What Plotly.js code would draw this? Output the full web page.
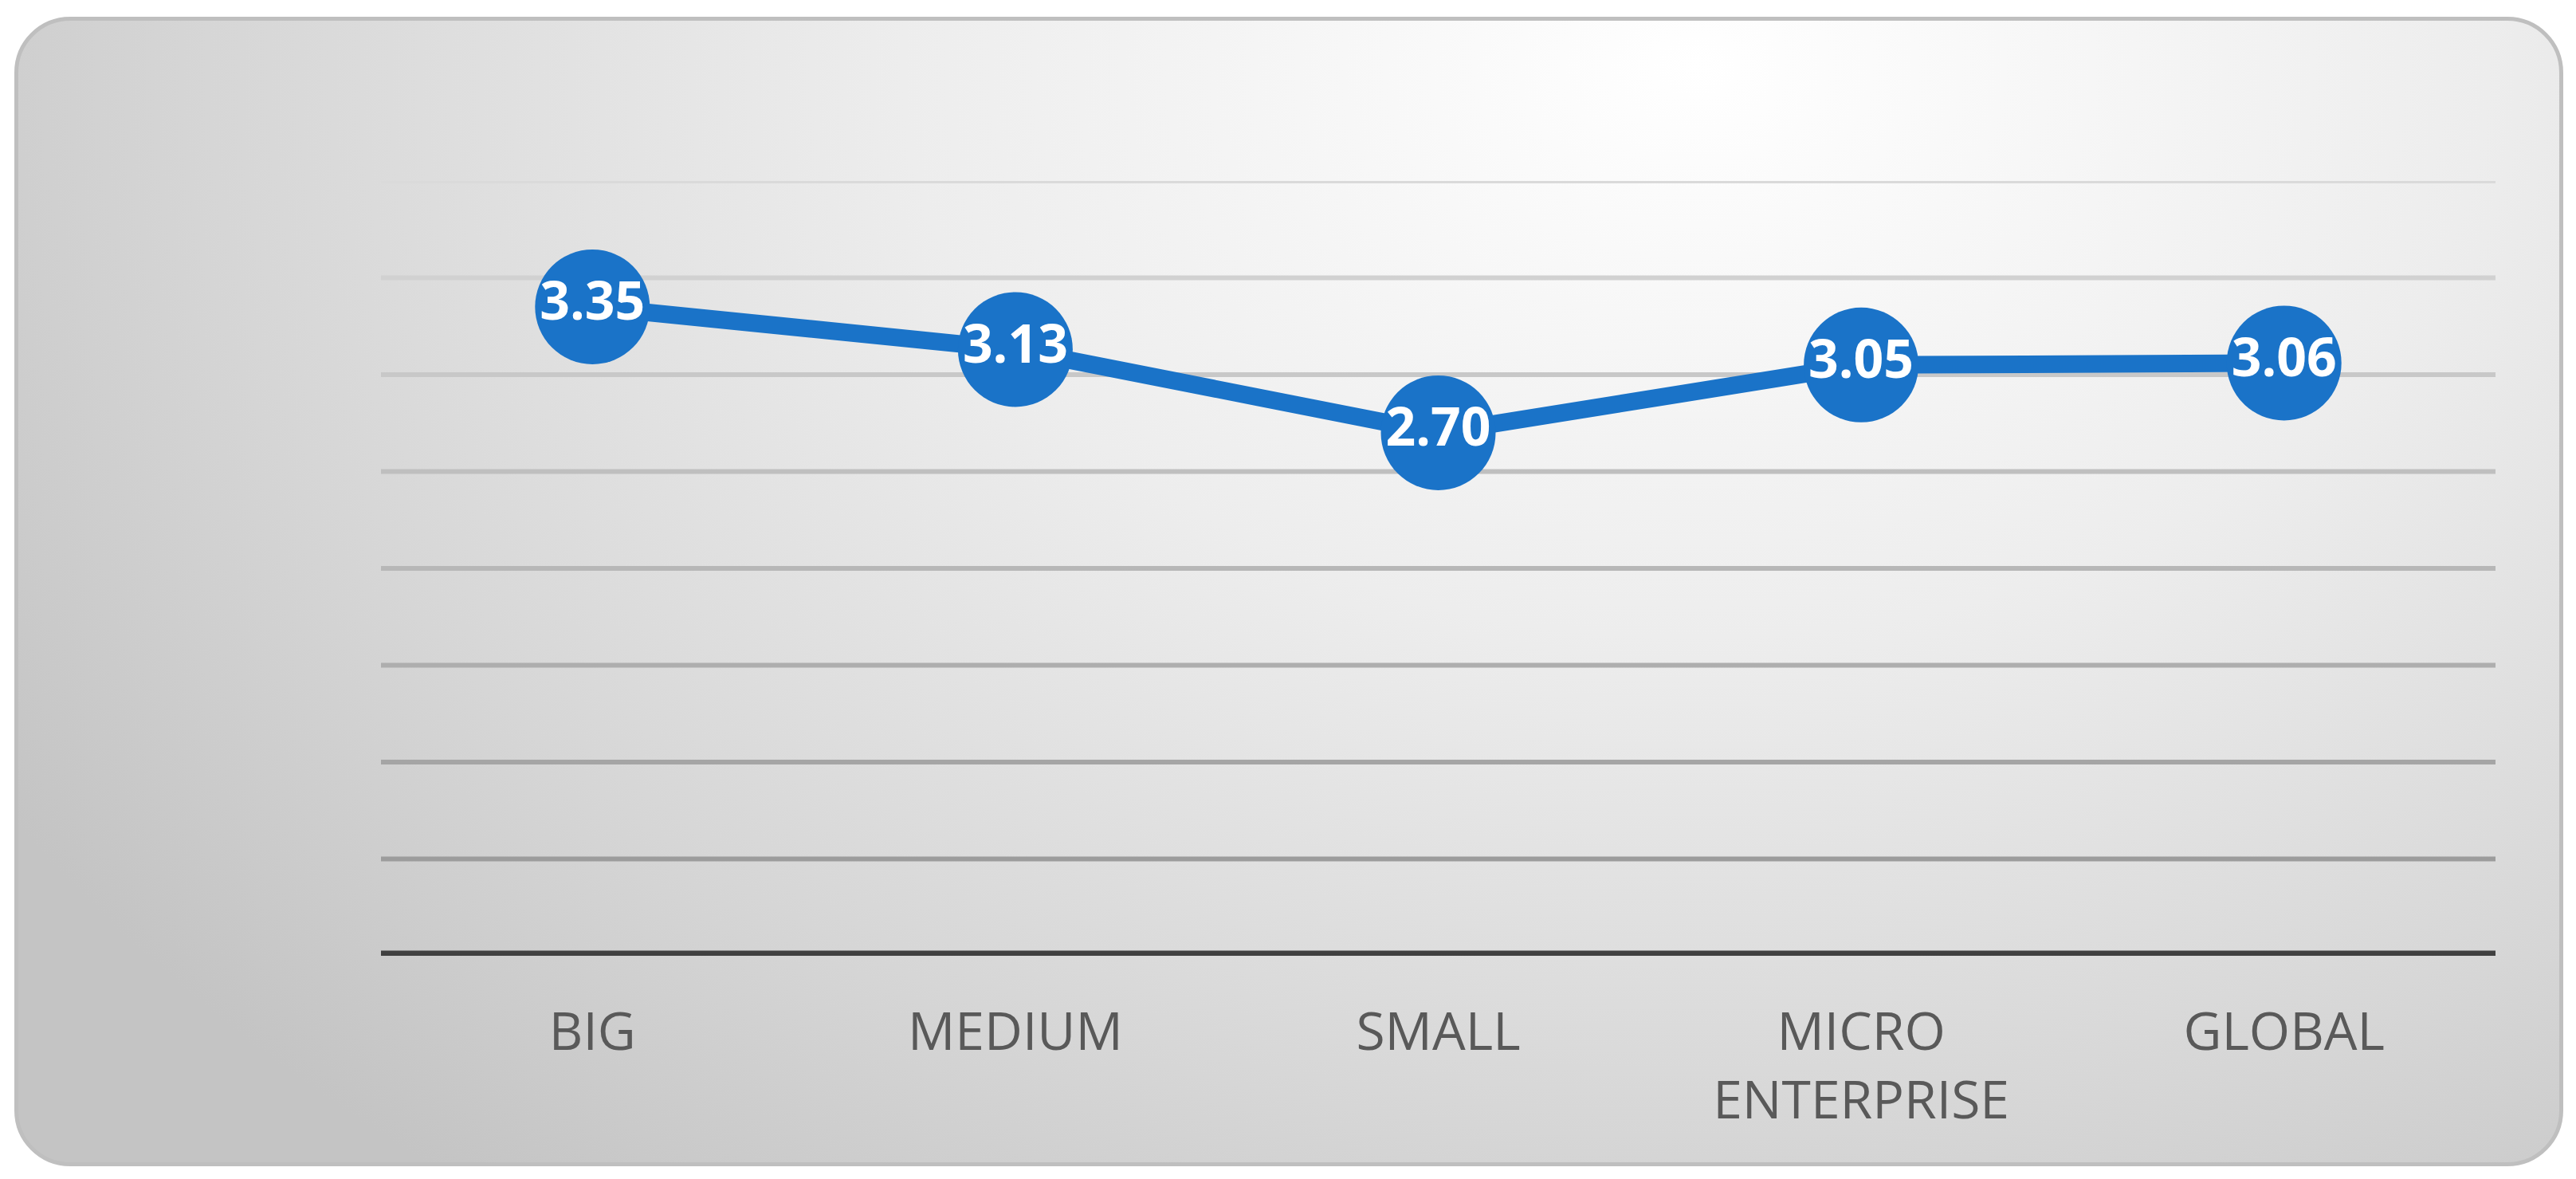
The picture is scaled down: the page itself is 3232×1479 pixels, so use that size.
<!DOCTYPE html>
<html>
<head>
<meta charset="utf-8">
<script src="https://cdn.plot.ly/plotly-3.0.1.min.js"></script>
<style>
    html, body { margin: 0; padding: 0; background: #ffffff; }
    #card {
        position: absolute;
        left: 18px; top: 21px;
        width: 3198px; height: 1442px;
        box-sizing: border-box;
        border: 5px solid #bfbfbf;
        border-radius: 70px;
        background: radial-gradient(ellipse 78% 125% at 66% 4%, #ffffff 0%, #ededed 40%, #d6d6d6 75%, #c4c4c4 100%);
    }
    #chart { position: absolute; left: 0; top: 0; width: 3232px; height: 1479px; }
</style>
</head>
<body>
<div id="card"></div>
<div id="chart"></div>
<script>
// данные графика
const categories = ['BIG', 'MEDIUM', 'SMALL', 'MICRO<br>ENTERPRISE', 'GLOBAL'];
const scores = [3.35, 3.13, 2.70, 3.05, 3.06];
const gridValues = [0.5, 1, 1.5, 2, 2.5, 3, 3.5, 4];

const blue = '#1a73c8';
const labelFont = '"Open Sans", Lato, sans-serif';

// линии сетки: сверху светлее, снизу темнее
function gridShapes() {
    const shapes = gridValues.map((v, i) => {
        const t = 1 - (v - 0.5) / 3.5;               // 0 сверху, 1 снизу
        const g = Math.round(218 - t * 62);
        return {
            type: 'line', xref: 'paper', x0: 0, x1: 1,
            yref: 'y', y0: v, y1: v,
            line: { color: `rgb(${g},${g},${g})`, width: 6 },
            layer: 'below'
        };
    });
    // ось X (жирная тёмная линия на нуле)
    shapes.push({
        type: 'line', xref: 'paper', x0: 0, x1: 1,
        yref: 'y', y0: 0, y1: 0,
        line: { color: '#404040', width: 13 },
        layer: 'below'
    });
    return shapes;
}

document.addEventListener('DOMContentLoaded', function() {
    const trace = {
        x: categories,
        y: scores,
        type: 'scatter',
        mode: 'lines+markers+text',
        line: { color: blue, width: 22 },
        marker: { color: blue, size: 144, line: { width: 0 } },
        text: scores.map(v => v.toFixed(2)),
        textposition: 'middle center',
        textfont: { family: labelFont, size: 66, color: '#ffffff', weight: 'bold' },
        hoverinfo: 'skip',
        cliponaxis: false
    };

    const layout = {
        width: 3232,
        height: 1479,
        margin: { l: 478, r: 101, t: 227, b: 280 },
        paper_bgcolor: 'rgba(0,0,0,0)',
        plot_bgcolor: 'rgba(0,0,0,0)',
        showlegend: false,
        xaxis: {
            type: 'category',
            range: [-0.5, categories.length - 0.5],
            showgrid: false,
            zeroline: false,
            showline: false,
            ticks: '',
            tickfont: { family: labelFont, size: 66, color: '#595959' },
            ticklabelstandoff: 51
        },
        yaxis: {
            range: [0, 4],
            showgrid: false,
            zeroline: false,
            showline: false,
            showticklabels: false,
            ticks: ''
        },
        shapes: gridShapes()
    };

    Plotly.newPlot('chart', [trace], layout, { displayModeBar: false, staticPlot: true });
});
</script>
</body>
</html>
